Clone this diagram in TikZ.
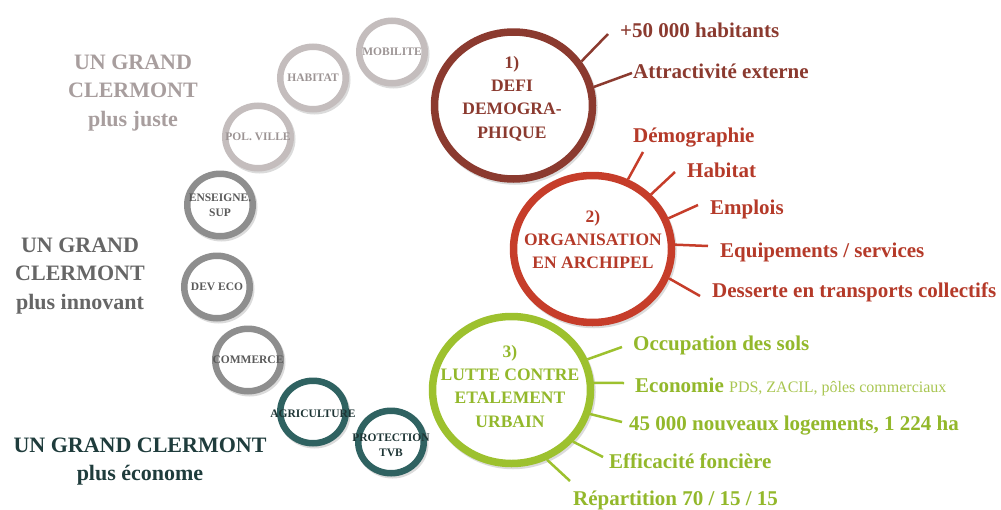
\documentclass[tikz,border=0pt]{standalone}
\usepackage{fontspec}
\setmainfont{Liberation Serif}
\usetikzlibrary{shapes.geometric}

% palette
\definecolor{defi}{HTML}{8B3A2F}
\definecolor{orga}{HTML}{C63D2A}
\definecolor{orgatxt}{HTML}{B53A29}
\definecolor{lutte}{HTML}{9DC12E}
\definecolor{luttetxt}{HTML}{93B82B}
\definecolor{luttesoft}{HTML}{A9C651}
\definecolor{ringlight}{HTML}{C4BDBD}
\definecolor{txtlight}{HTML}{9C9494}
\definecolor{ringmid}{HTML}{8E8E8E}
\definecolor{txtmid}{HTML}{5A5A5A}
\definecolor{ringteal}{HTML}{2F6261}
\definecolor{txtteal}{HTML}{1E3535}
\definecolor{juste}{HTML}{A89E9E}
\definecolor{innov}{HTML}{666666}
\definecolor{econ}{HTML}{1F3C3C}

\begin{document}
\begin{tikzpicture}[x=1pt,y=-1pt,
  ringshadow/.style={preaction={draw=black!14, line width=#1,
      transform canvas={shift={(1.5pt,-2pt)}}}},
  bigring/.style={ellipse, draw=#1, line width=7.5pt, fill=white,
      minimum width=158pt, minimum height=147pt, inner sep=0pt,
      ringshadow=7.5pt},
  smallring/.style={ellipse, draw=#1, line width=6.5pt, fill=white,
      minimum width=65.5pt, minimum height=62.5pt, inner sep=0pt,
      ringshadow=6.5pt},
  ringtxt/.style={inner sep=0pt, align=center, text=#1,
      font=\bfseries\fontsize{11.5}{15}\selectfont},
  bigtxt/.style={anchor=north, inner sep=0pt, align=center,
      font=\bfseries\fontsize{17.5}{23.3}\selectfont},
  sidetxt/.style={anchor=north, inner sep=0pt, align=center,
      font=\bfseries\fontsize{22}{28.5}\selectfont},
  lab/.style={anchor=base west, inner sep=0pt,
      font=\bfseries\fontsize{21}{25}\selectfont},
  conn/.style={draw=#1, line width=2.5pt}
]
\fill[white] (0,0) rectangle (1001,509);
\useasboundingbox (0,0) rectangle (1001,509);

% themed rings along the arc
\node[smallring=ringlight] (mob) at (392,52)  {};
\node[smallring=ringlight] (hab) at (313,78)  {};
\node[smallring=ringlight] (pol) at (258,137) {};
\node[smallring=ringmid]   (ens) at (220,205) {};
\node[smallring=ringmid]   (dev) at (217,287) {};
\node[smallring=ringmid]   (com) at (248,360) {};
\node[smallring=ringteal]  (agr) at (313,412) {};
\node[smallring=ringteal]  (tvb) at (391,442) {};
\node[ringtxt=txtlight] (mobt) at (mob) {MOBILITE};
\node[ringtxt=txtlight] (habt) at (hab) {HABITAT};
\node[ringtxt=txtlight] (polt) at (pol) {POL. VILLE};
\node[ringtxt=txtmid]   (enst) at (ens) {ENSEIGNE.\\SUP};
\node[ringtxt=txtmid]   (devt) at (dev) {DEV ECO};
\node[ringtxt=txtmid]   (comt) at (com) {COMMERCE};
\node[ringtxt=txtteal]  (agrt) at ([yshift=-2pt]agr.center) {AGRICULTURE};
\node[ringtxt=txtteal]  (tvbt) at ([yshift=-3pt]tvb.center) {PROTECTION\\TVB};

% side headings
\node[sidetxt, text=juste] (gj) at (133,54.5)
  {UN GRAND\\CLERMONT\\plus juste};
\node[sidetxt, text=innov] (gi) at (80,237.5)
  {UN GRAND\\CLERMONT\\plus innovant};
\node[sidetxt, text=econ] (ge) at (140,437.5)
  {UN GRAND CLERMONT\\plus économe};

% the three challenges
\node[bigring=defi]  (c1) at (513.5,105.5) {};
\node[bigring=orga]  (c2) at (592.5,249)   {};
\node[bigring=lutte] (c3) at (511.5,390)   {};
\node[bigtxt, text=defi]     (t1) at (512,56)  {1)\\DEFI\\DEMOGRA-\\PHIQUE};
\node[bigtxt, text=orgatxt]  (t2) at (593,210) {2)\\ORGANISATION\\EN ARCHIPEL};
\node[bigtxt, text=luttetxt] (t3) at (510,345) {3)\\LUTTE CONTRE\\ETALEMENT\\URBAIN};

% labels of challenge 1
\node[lab, text=defi] (l11) at (620,37) {+50 000 habitants};
\node[lab, text=defi] (l12) at (633,78) {Attractivité externe};
\coordinate (k11) at (608,34);
\coordinate (k12) at (632,73);
\draw[conn=defi] (c1.33) -- (k11);
\draw[conn=defi] (c1.13) -- (k12);

% labels of challenge 2
\node[lab, text=orgatxt] (l21) at (633,142) {Démographie};
\node[lab, text=orgatxt] (l22) at (687,177) {Habitat};
\node[lab, text=orgatxt] (l23) at (710,214) {Emplois};
\node[lab, text=orgatxt] (l24) at (720,257) {Equipements / services};
\node[lab, text=orgatxt] (l25) at (712,297) {Desserte en transports collectifs};
\coordinate (k21) at (643,152);
\coordinate (k22) at (675,172);
\coordinate (k23) at (698,205);
\coordinate (k24) at (708,246);
\coordinate (k25) at (700,296);
\draw[conn=orga] (c2.63) -- (k21);
\draw[conn=orga] (c2.43) -- (k22);
\draw[conn=orga] (c2.22) -- (k23);
\draw[conn=orga] (c2.3) -- (k24);
\draw[conn=orga] (c2.-21) -- (k25);

% labels of challenge 3
\node[lab, text=luttetxt] (l31) at (633,350) {Occupation des sols};
\node[lab, text=luttetxt] (l32) at (635,392)
  {Economie {\mdseries\fontsize{16}{18}\selectfont\color{luttesoft} PDS, ZACIL, pôles commerciaux}};
\node[lab, text=luttetxt] (l33) at (629,430) {45 000 nouveaux logements, 1 224 ha};
\node[lab, text=luttetxt] (l34) at (609,468) {Efficacité foncière};
\node[lab, text=luttetxt] (l35) at (573,505) {Répartition 70 / 15 / 15};
\coordinate (k31) at (622,347);
\coordinate (k32) at (624,383);
\coordinate (k33) at (622,422);
\coordinate (k34) at (603,457);
\coordinate (k35) at (570,481);
\draw[conn=lutte] (c3.22) -- (k31);
\draw[conn=lutte] (c3.5) -- (k32);
\draw[conn=lutte] (c3.-17) -- (k33);
\draw[conn=lutte] (c3.-40) -- (k34);
\draw[conn=lutte] (c3.-63) -- (k35);
\end{tikzpicture}
\end{document}
